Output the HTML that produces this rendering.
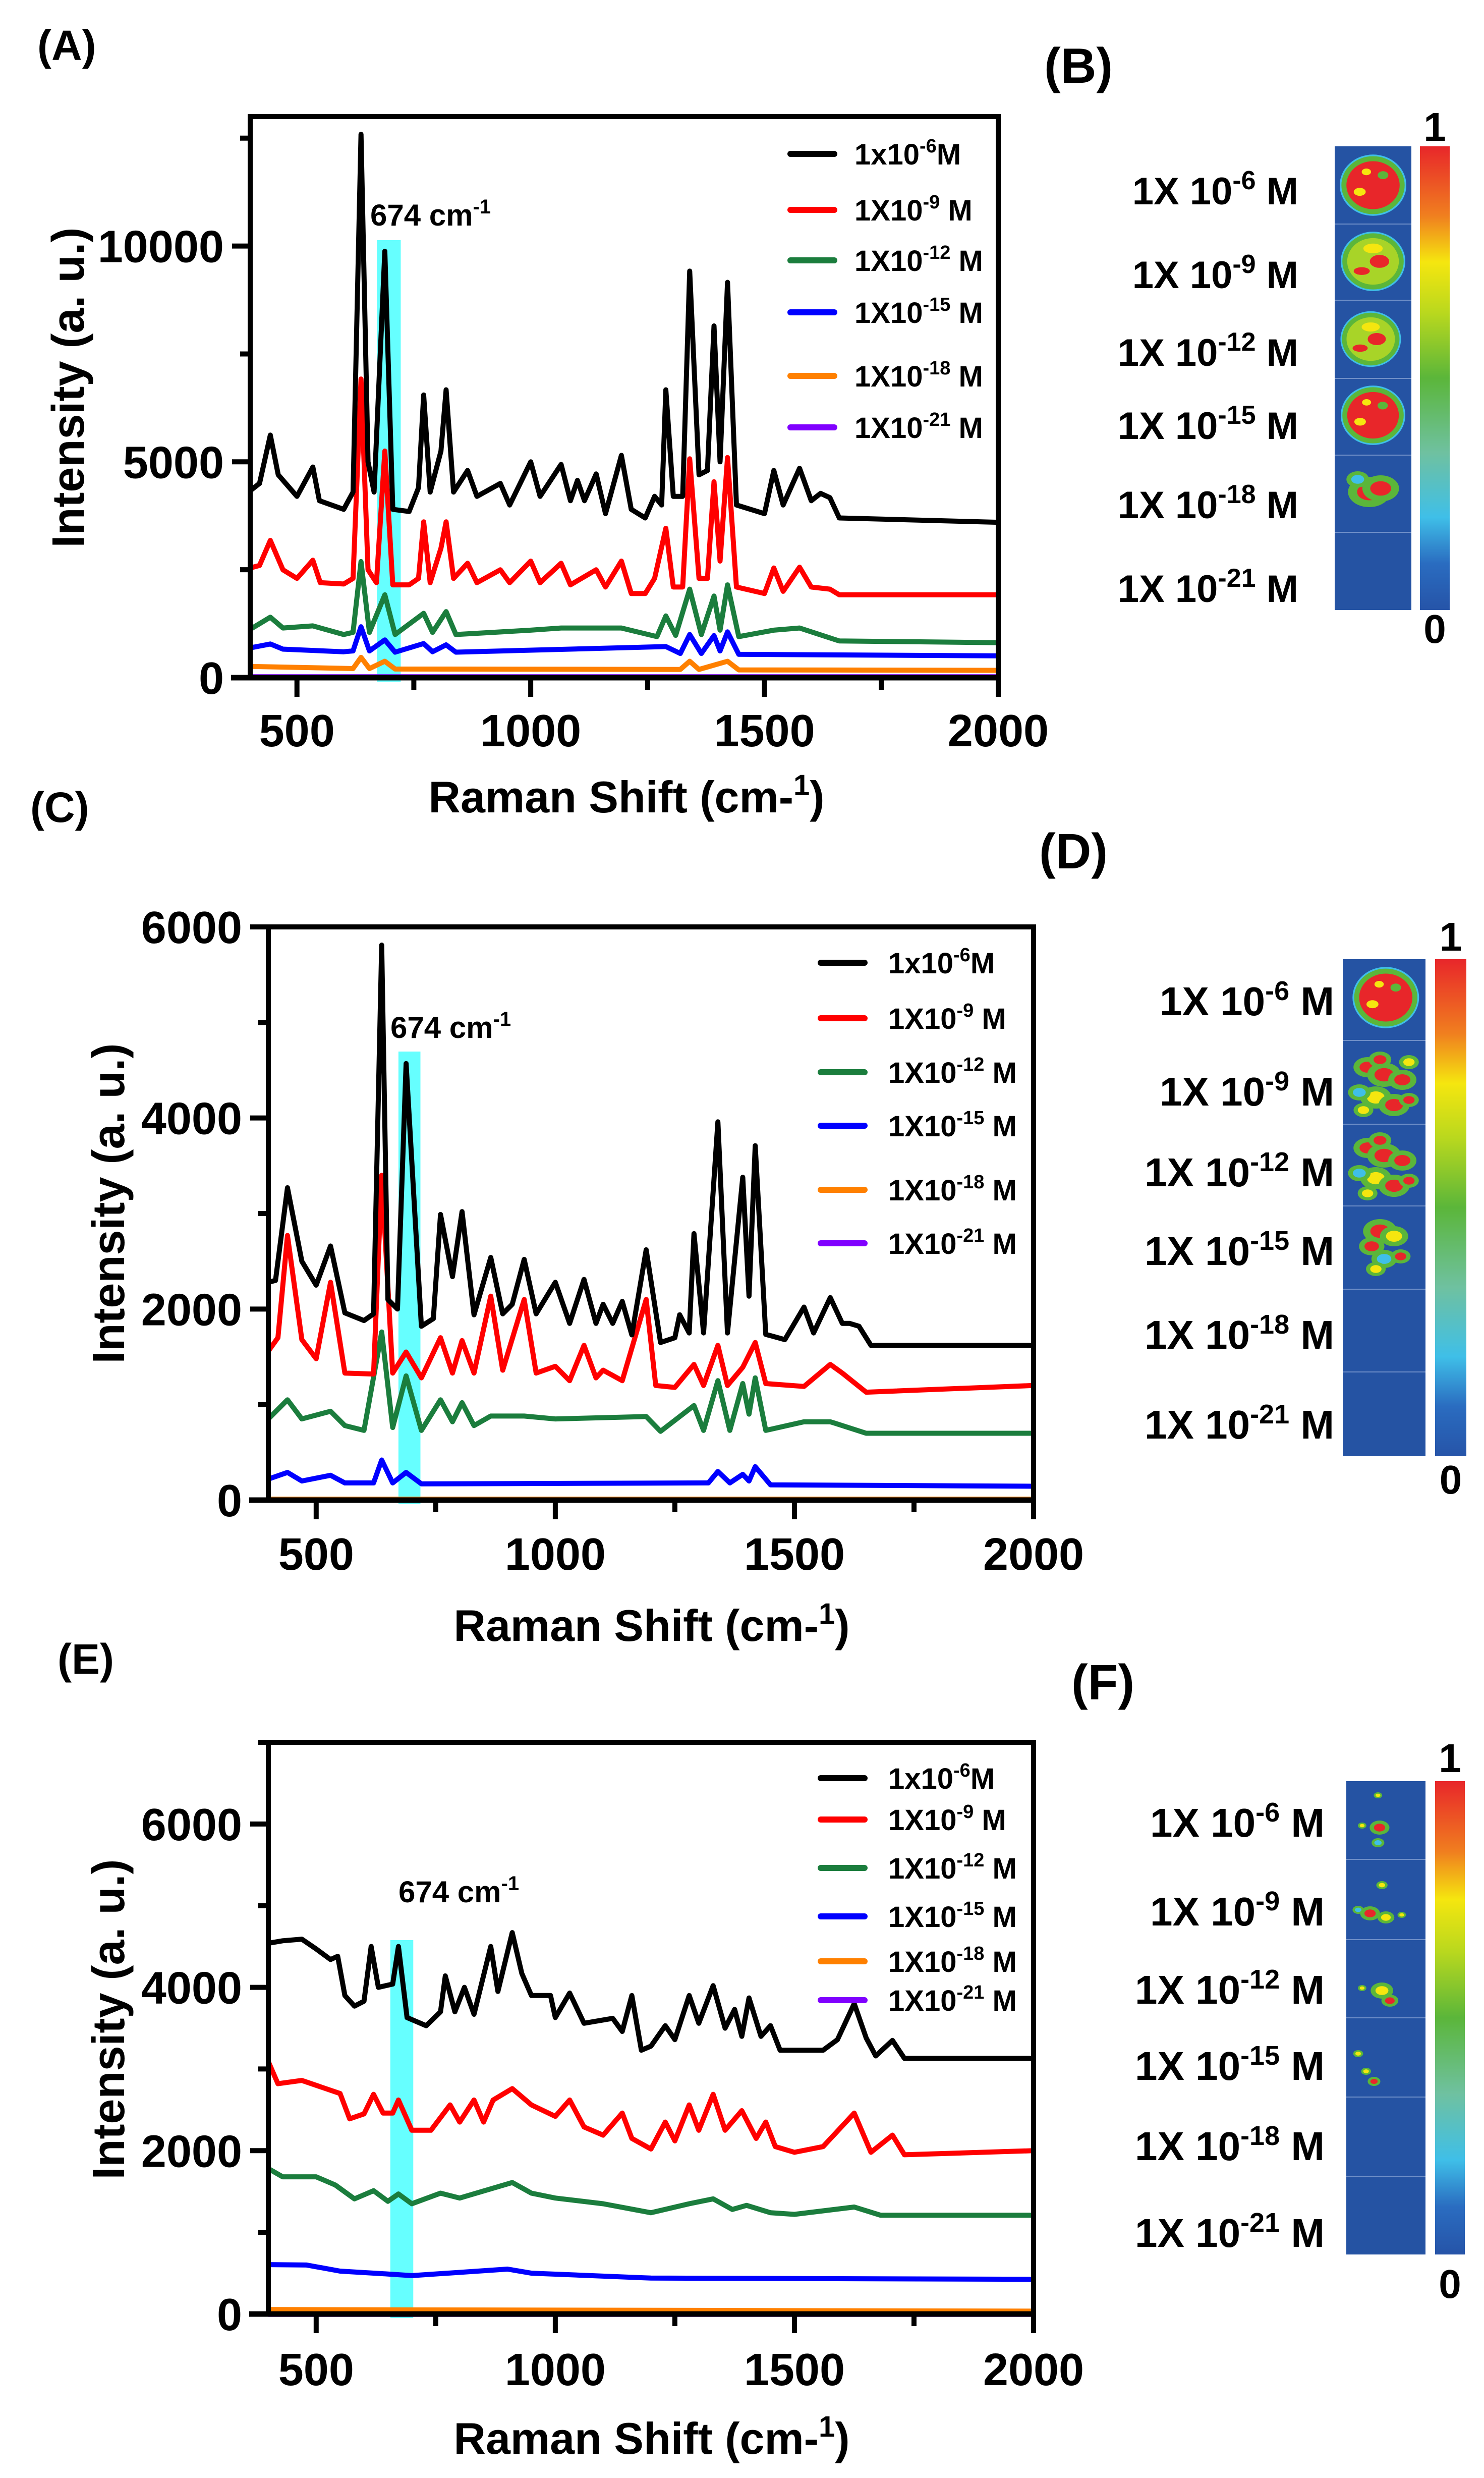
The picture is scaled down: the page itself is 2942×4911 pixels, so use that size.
<!DOCTYPE html>
<html><head><meta charset="utf-8">
<style>
html,body{margin:0;padding:0;background:#fff;}
svg{display:block;font-family:"Liberation Sans",Arial,sans-serif;}
</style></head>
<body>
<svg id="fig" xmlns="http://www.w3.org/2000/svg" width="2942" height="4911" viewBox="0 0 2942 4911">
<defs>
<linearGradient id="cbar" x1="0" y1="0" x2="0" y2="1">
<stop offset="0" stop-color="#e8262a"/><stop offset="0.15" stop-color="#f07f1f"/>
<stop offset="0.25" stop-color="#f5e60f"/><stop offset="0.36" stop-color="#b9d81e"/>
<stop offset="0.5" stop-color="#5bb63a"/><stop offset="0.66" stop-color="#6fc1a0"/>
<stop offset="0.8" stop-color="#3fbfe8"/><stop offset="0.9" stop-color="#2a6cc0"/>
<stop offset="1" stop-color="#2654a8"/></linearGradient>
</defs>
</svg>
<script>
// ---------- Panel A data ----------
const aBlackX=[400,420,443,460,500,534,548,600,620,637,652,665,688,705,740,760,771,785,808,819,835,865,885,935,955,1000,1020,1065,1085,1100,1115,1140,1160,1194,1215,1245,1265,1280,1289,1305,1325,1340,1360,1378,1392,1405,1421,1440,1500,1520,1540,1575,1600,1620,1640,1660,2000];
const aBlackY=[4330,4500,5620,4700,4200,4880,4100,3900,4300,12590,5000,4300,9880,3900,3850,4400,6550,4300,5250,6670,4300,4800,4200,4500,4000,5000,4200,4940,4100,4570,4100,4720,3800,5150,3900,3700,4200,4000,6670,4200,4200,9420,4700,4800,8150,5000,9160,4000,3800,4800,4000,4850,4100,4270,4170,3700,3600];
const aRedX=[400,420,443,470,500,534,550,600,620,637,652,670,688,705,740,760,771,785,808,819,835,865,885,935,955,1000,1020,1065,1085,1140,1160,1194,1215,1245,1265,1289,1305,1325,1340,1360,1378,1392,1405,1421,1440,1500,1520,1540,1575,1600,1640,1660,2000];
const aRedY=[2540,2600,3180,2500,2300,2720,2200,2170,2300,6920,2500,2200,5250,2150,2150,2300,3610,2200,3000,3610,2300,2650,2200,2500,2200,2700,2200,2650,2150,2500,2100,2700,1950,1950,2300,3460,2100,2100,5070,2300,2300,4540,2700,5100,2100,1950,2540,2000,2560,2100,2050,1920,1920];
const aGreenX=[400,443,470,534,600,620,637,655,688,710,771,790,819,840,1000,1065,1194,1270,1289,1310,1340,1365,1392,1405,1421,1445,1520,1575,1660,2000];
const aGreenY=[1120,1400,1150,1200,1000,1050,2690,1050,1920,1000,1490,1050,1530,1000,1100,1150,1150,950,1430,980,2050,1000,1890,1100,2150,950,1100,1150,850,810];
const aBlueX=[400,443,470,600,620,637,655,688,710,771,790,819,840,1289,1320,1340,1365,1392,1405,1421,1445,2000];
const aBlueY=[690,780,660,600,620,1180,620,875,590,790,600,760,590,720,560,1000,560,975,620,1060,540,505];
const aOrangeX=[400,620,637,655,688,710,1320,1340,1360,1421,1445,2000];
const aOrangeY=[260,210,470,210,380,200,190,380,190,380,180,170];
const aPurpleX=[400,2000];
const aPurpleY=[20,20];
// ---------- Panel C data ----------
const cBlackX=[400,415,440,470,500,530,560,600,620,637,650,670,688,720,745,760,785,805,830,865,890,910,935,960,1000,1030,1060,1085,1100,1120,1140,1160,1190,1220,1250,1260,1280,1290,1310,1340,1360,1392,1405,1418,1440,1480,1520,1540,1575,1600,1615,1635,1660,2000];
const cBlackY=[2280,2300,3270,2500,2250,2660,1960,1880,1950,5810,2100,2000,4570,1820,1900,2990,2340,3020,1940,2540,1950,2050,2520,1950,2280,1850,2310,1850,2050,1850,2080,1730,2620,1650,1700,1940,1750,2790,1750,3960,1750,3380,2135,3710,1735,1680,2020,1750,2120,1850,1850,1820,1620,1620];
const cRedX=[400,420,440,470,500,530,560,620,637,660,688,720,760,785,805,830,865,890,935,960,1000,1030,1060,1085,1100,1140,1190,1210,1250,1290,1310,1340,1360,1392,1418,1440,1520,1575,1600,1650,2000];
const cRedY=[1560,1700,2770,1680,1480,2280,1330,1320,3400,1330,1550,1280,1700,1330,1670,1330,2135,1360,2100,1330,1400,1250,1620,1280,1360,1250,2100,1200,1180,1420,1200,1620,1200,1390,1650,1220,1190,1420,1330,1130,1200];
const cGreenX=[400,440,470,530,560,600,637,660,688,720,760,785,805,830,865,935,1000,1190,1220,1290,1310,1340,1365,1392,1405,1418,1440,1520,1575,1650,2000];
const cGreenY=[850,1050,850,930,780,730,1760,760,1300,730,1050,820,1020,780,880,880,850,875,720,990,730,1250,730,1220,900,1280,730,820,820,700,700];
const cBlueX=[400,440,470,530,560,620,637,660,688,720,1320,1340,1365,1392,1405,1418,1450,2000];
const cBlueY=[220,290,200,260,180,180,420,180,290,170,180,300,180,270,200,350,160,145];
const cOrangeX=[400,2000];
const cOrangeY=[10,10];
const cPurpleX=[400,2000];
const cPurpleY=[0,0];
// ---------- Panel E data ----------
const eBlackX=[400,430,470,500,530,545,560,580,600,615,630,660,672,690,730,760,770,790,810,830,865,880,910,930,950,990,1000,1030,1060,1100,1120,1140,1160,1180,1200,1230,1250,1280,1300,1330,1355,1375,1390,1405,1430,1450,1470,1500,1560,1590,1625,1650,1670,1705,1730,2000];
const eBlackY=[4540,4570,4590,4470,4340,4380,3900,3770,3830,4500,4000,4040,4500,3630,3530,3700,4140,3700,4000,3670,4500,3950,4670,4170,3900,3900,3630,3930,3560,3600,3620,3460,3900,3230,3280,3530,3360,3900,3560,4020,3500,3730,3400,3870,3400,3530,3230,3230,3230,3360,3800,3380,3160,3350,3130,3130];
const eRedX=[400,420,470,520,550,570,600,620,640,660,672,700,740,780,800,830,850,870,910,950,1000,1030,1060,1100,1140,1160,1200,1230,1250,1280,1300,1330,1355,1390,1420,1440,1460,1500,1560,1625,1660,1705,1730,2000];
const eRedY=[3090,2820,2860,2760,2700,2390,2450,2690,2460,2460,2620,2250,2250,2560,2350,2620,2350,2620,2760,2560,2420,2620,2290,2190,2460,2150,2020,2350,2120,2560,2250,2690,2250,2490,2150,2350,2050,1980,2050,2460,1980,2190,1950,2000];
const eGreenX=[400,430,500,540,580,620,650,672,700,760,800,910,950,1000,1100,1200,1280,1330,1370,1400,1450,1500,1625,1680,2000];
const eGreenY=[1780,1680,1680,1580,1410,1510,1380,1470,1350,1480,1420,1610,1480,1420,1350,1240,1350,1410,1280,1330,1240,1220,1310,1210,1210];
const eBlueX=[400,480,550,650,700,900,950,1200,2000];
const eBlueY=[605,600,525,490,470,550,500,440,425];
const eOrangeX=[400,2000];
const eOrangeY=[55,35];
const ePurpleX=[400,2000];
const ePurpleY=[-5,-5];
// ---------- shared labels ----------
const xTickValues=[500,1000,1500,2000];
const xMinorValues=[750,1250,1750];
const aYTicks=[0,5000,10000];
const aYMinor=[2500,7500,12500];
const cYTicks=[0,2000,4000,6000];
const cYMinor=[1000,3000,5000];
const eYTicks=[0,2000,4000,6000];
const eYMinor=[1000,3000,5000,7000];
const legendBase=["1x10","1X10","1X10","1X10","1X10","1X10"];
const legendExp=["-6","-9","-12","-15","-18","-21"];
const legendUnit=["M"," M"," M"," M"," M"," M"];
const seriesColors=["#000000","#ff0000","#1b7d3d","#0000ff","#ff8000","#8000ff"];
const mapExp=["-6","-9","-12","-15","-18","-21"];

const NS="http://www.w3.org/2000/svg";
const svg=document.getElementById('fig');
function mk(tag,attrs,parent){const e=document.createElementNS(NS,tag);for(const k in attrs)e.setAttribute(k,attrs[k]);(parent||svg).appendChild(e);return e;}

function panel(p){
  const g=mk('g',{});
  
  
  const sx=v=>p.px0+(v-400)/(2000-400)*(p.px1-p.px0);
  const sy=v=>p.py0-(v/p.ymax)*(p.py0-p.pyTop);
  const cid='clip'+p.name;
  const cp=mk('clipPath',{id:cid},g);mk('rect',{x:p.px0,y:p.pyTop,width:p.px1-p.px0,height:p.py0-p.pyTop+6},cp);
  const band=mk('rect',{x:sx(p.band[0]),y:p.bandTop,width:sx(p.band[1])-sx(p.band[0]),height:p.py0-p.bandTop+8,fill:'#66ffff'},g);
  
  
  const order=[5,4,3,2,1,0];
  order.forEach(i=>{
    const xs=p.series[i][0],ys=p.series[i][1];
    const n=Math.min(xs.length,ys.length);
    let d='';
    for(let k=0;k<n;k++)d+=(k?'L':'M')+sx(xs[k]).toFixed(1)+' '+sy(ys[k]).toFixed(1);
    const path=mk('path',{d:d,fill:'none',stroke:seriesColors[i],'stroke-width':10,'stroke-linejoin':'round','stroke-linecap':'round','clip-path':'url(#'+cid+')'},g);
    
    
  });
  const fr=mk('rect',{x:p.px0,y:p.pyTop,width:p.px1-p.px0,height:p.py0-p.pyTop,fill:'none',stroke:'#000','stroke-width':10},g);
  
  
  const xl=mk('line',{x1:p.px0-38,x2:p.px1,y1:p.py0,y2:p.py0,stroke:'#000','stroke-width':11},g);
  
  
  p.yt.forEach(v=>{
    mk('line',{x1:p.px0-36,x2:p.px0,y1:sy(v),y2:sy(v),stroke:'#000','stroke-width':10},g);
    const t=mk('text',{x:p.px0-52,y:sy(v)+32,'text-anchor':'end','font-size':90,'font-weight':'bold'},g);
    t.textContent=v;
    
    
  });
  p.ym.forEach(v=>mk('line',{x1:p.px0-20,x2:p.px0,y1:sy(v),y2:sy(v),stroke:'#000','stroke-width':10},g));
  xTickValues.forEach(v=>{
    mk('line',{x1:sx(v),x2:sx(v),y1:p.py0,y2:p.py0+38,stroke:'#000','stroke-width':10},g);
    const t=mk('text',{x:sx(v),y:p.xLabY+32,'text-anchor':'middle','font-size':90,'font-weight':'bold'},g);
    t.textContent=v;
    
    
  });
  xMinorValues.forEach(v=>mk('line',{x1:sx(v),x2:sx(v),y1:p.py0,y2:p.py0+24,stroke:'#000','stroke-width':10},g));
  const xt=mk('text',{x:p.xTitleX,y:p.xTitleY+32,'text-anchor':'middle','font-size':88,'font-weight':'bold'},g);
  xt.innerHTML='Raman Shift (cm-<tspan font-size="58" dy="-34">1</tspan><tspan dy="34">)</tspan>';
  
  
  const yt=mk('text',{x:0,y:0,'text-anchor':'middle','font-size':90,'font-weight':'bold',transform:'translate('+(p.yTitleX+32)+','+p.yTitleY+') rotate(-90)'},g);
  yt.textContent='Intensity  (a. u.)';
  yt.setAttribute('xml:space','preserve');
  
  
  const bl=mk('text',{x:p.bandLabX,y:p.bandLabY,'font-size':60,'font-weight':'bold'},g);
  bl.innerHTML='674 cm<tspan font-size="40" dy="-24">-1</tspan>';
  
  
  p.legRows.forEach((ry,i)=>{
    const lg=mk('g',{},g);
    
    
    mk('line',{x1:p.legX1,x2:p.legX2,y1:ry,y2:ry,stroke:seriesColors[i],'stroke-width':12,'stroke-linecap':'round'},lg);
    const t=mk('text',{x:p.legT,y:ry+21,'font-size':58,'font-weight':'bold'},lg);
    t.innerHTML=legendBase[i]+'<tspan font-size="38" dy="-24">'+legendExp[i]+'</tspan><tspan dy="24">'+legendUnit[i]+'</tspan>';
  });
  const pl=mk('text',{x:p.letX,y:p.letY+30,'font-size':84,'font-weight':'bold'},g);
  pl.textContent=p.letter;
  
  
}

panel({name:'a',letter:'(A)',px0:496,px1:1979,py0:1343,pyTop:231,ymax:13000,yt:aYTicks,ym:aYMinor,
  band:[671,722],bandTop:476,xLabY:1447,xTitleX:1242,xTitleY:1578,yTitleX:134,yTitleY:768,bandLabX:734,bandLabY:447,
  legX1:1567,legX2:1654,legT:1694,legRows:[305,416,516,619,745,847],letX:74,letY:89,
  series:[[aBlackX,aBlackY],[aRedX,aRedY],[aGreenX,aGreenY],[aBlueX,aBlueY],[aOrangeX,aOrangeY],[aPurpleX,aPurpleY]]});
panel({name:'c',letter:'(C)',px0:532,px1:2049,py0:2973,pyTop:1837,ymax:6000,yt:cYTicks,ym:cYMinor,
  band:[672,718],bandTop:2084,xLabY:3079,xTitleX:1292,xTitleY:3220,yTitleX:214,yTitleY:2385,bandLabX:774,bandLabY:2057,
  legX1:1627,legX2:1714,legT:1761,legRows:[1908,2018,2125,2231,2358,2464],letX:60,letY:1599,
  series:[[cBlackX,cBlackY],[cRedX,cRedY],[cGreenX,cGreenY],[cBlueX,cBlueY],[cOrangeX,cOrangeY],[cPurpleX,cPurpleY]]});
panel({name:'e',letter:'(E)',px0:532,px1:2049,py0:4586,pyTop:3453,ymax:7000,yt:eYTicks,ym:eYMinor,
  band:[655,703],bandTop:3845,xLabY:4695,xTitleX:1292,xTitleY:4831,yTitleX:214,yTitleY:4002,bandLabX:790,bandLabY:3770,
  legX1:1627,legX2:1714,legT:1761,legRows:[3524,3606,3702,3798,3887,3964],letX:114,letY:3287,
  series:[[eBlackX,eBlackY],[eRedX,eRedY],[eGreenX,eGreenY],[eBlueX,eBlueY],[eOrangeX,eOrangeY],[ePurpleX,ePurpleY]]});

function blob(parent,cx,cy,rx,ry,col){mk('ellipse',{cx:cx,cy:cy,rx:rx,ry:ry,fill:col},parent);}
function mapPanel(m){
  const g=mk('g',{});
  
  
  const bg=mk('rect',{x:m.x0,y:m.y0,width:m.x1-m.x0,height:m.y1-m.y0,fill:'#2553a3'},g);
  
  
  m.seps.forEach(y=>mk('line',{x1:m.x0,x2:m.x1,y1:y,y2:y,stroke:'#6f8fc8','stroke-width':2},g));
  const cw=m.x1-m.x0;
  m.cells.forEach(c=>{
    const cx=m.x0+cw*c.fx, cy=c.cy;
    if(c.kind==='full'){blob(g,cx,cy,c.r,c.r*0.92,'#3fbfe8');blob(g,cx,cy,c.r*0.95,c.r*0.87,'#5bb63a');
      blob(g,cx,cy,c.r*0.8,c.r*0.72,c.red?'#e8262a':'#a8d428');
      if(c.red){blob(g,cx-c.r*0.4,cy+c.r*0.2,c.r*0.18,c.r*0.12,'#f5e60f');blob(g,cx+c.r*0.3,cy-c.r*0.3,c.r*0.16,c.r*0.12,'#5bb63a');blob(g,cx-c.r*0.2,cy-c.r*0.4,c.r*0.14,c.r*0.1,'#f5e60f');}
      else{blob(g,cx+c.r*0.2,cy,c.r*0.3,c.r*0.2,'#e8262a');blob(g,cx-c.r*0.35,cy+c.r*0.3,c.r*0.25,c.r*0.12,'#e8262a');blob(g,cx,cy-c.r*0.4,c.r*0.3,c.r*0.15,'#f5e60f');}
    } else if(c.kind==='spots'){
      c.pts.forEach(s=>{blob(g,m.x0+cw*s[0],s[1],s[2]*1.4,s[2],'#5bb63a');blob(g,m.x0+cw*s[0],s[1],s[2]*0.8,s[2]*0.55,s[3]);});
    }
  });
  const cb=mk('rect',{x:m.cbx0,y:m.y0,width:m.cbx1-m.cbx0,height:m.y1-m.y0,fill:'url(#cbar)'},g);
  
  
  const cbc=(m.cbx0+m.cbx1)/2;
  const t1=mk('text',{x:cbc,y:m.oneY+30,'text-anchor':'middle','font-size':80,'font-weight':'bold'},g);t1.textContent='1';
  
  
  const t0=mk('text',{x:cbc,y:m.zeroY+30,'text-anchor':'middle','font-size':80,'font-weight':'bold'},g);t0.textContent='0';
  
  
  m.rows.forEach((ry,i)=>{
    const t=mk('text',{x:m.labR,y:ry+28,'text-anchor':'end','font-size':m.fs,'font-weight':'bold'},g);
    t.innerHTML='1X 10<tspan font-size="'+Math.round(m.fs*0.68)+'" dy="-30">'+mapExp[i]+'</tspan><tspan dy="30"> M</tspan>';
    
    
  });
  const l=mk('text',{x:m.letX,y:m.letY+36,'font-size':98,'font-weight':'bold'},g);l.textContent=m.letter;
  
  
}
mapPanel({name:'b',letter:'(B)',x0:2646,x1:2798,y0:290,y1:1209,cbx0:2815,cbx1:2874,seps:[444,595,750,902,1055],
  oneY:249,zeroY:1244,labR:2574,fs:76,rows:[377,543,697,842,999,1165],letX:2070,letY:128,
  cells:[{kind:'full',fx:0.5,cy:367,r:66,red:true},{kind:'full',fx:0.5,cy:518,r:64,red:false},{kind:'full',fx:0.47,cy:672,r:60,red:false},
         {kind:'full',fx:0.5,cy:823,r:64,red:true},{kind:'spots',pts:[[0.45,975,30,'#e8262a'],[0.6,968,26,'#e8262a'],[0.3,950,16,'#3fbfe8']]}]});
mapPanel({name:'d',letter:'(D)',x0:2662,x1:2826,y0:1901,y1:2886,cbx0:2845,cbx1:2907,seps:[2062,2228,2390,2555,2719],
  oneY:1854,zeroY:2930,labR:2645,fs:80,rows:[1984,2163,2323,2479,2645,2823],letX:2060,letY:1685,
  cells:[{kind:'full',fx:0.52,cy:1977,r:66,red:true},
    {kind:'spots',pts:[[0.3,2115,20,'#e8262a'],[0.5,2130,24,'#e8262a'],[0.72,2140,20,'#e8262a'],[0.4,2175,22,'#f5e60f'],[0.62,2190,22,'#e8262a'],[0.2,2165,16,'#3fbfe8'],[0.8,2105,14,'#f5e60f'],[0.45,2100,16,'#e8262a'],[0.25,2200,14,'#f5e60f'],[0.8,2180,14,'#e8262a']]},
    {kind:'spots',pts:[[0.3,2275,20,'#e8262a'],[0.5,2290,24,'#e8262a'],[0.72,2300,20,'#e8262a'],[0.4,2335,22,'#f5e60f'],[0.62,2350,22,'#e8262a'],[0.2,2325,16,'#3fbfe8'],[0.45,2260,16,'#e8262a'],[0.8,2340,14,'#e8262a'],[0.3,2365,14,'#f5e60f']]},
    {kind:'spots',pts:[[0.45,2440,24,'#e8262a'],[0.62,2450,20,'#f5e60f'],[0.35,2470,18,'#e8262a'],[0.5,2495,18,'#3fbfe8'],[0.4,2515,14,'#f5e60f'],[0.7,2490,14,'#e8262a']]}]});
mapPanel({name:'f',letter:'(F)',x0:2669,x1:2826,y0:3530,y1:4468,cbx0:2845,cbx1:2904,seps:[3685,3844,3999,4156,4313],
  oneY:3482,zeroY:4524,labR:2626,fs:80,rows:[3612,3788,3943,4094,4253,4425],letX:2124,letY:3332,
  cells:[{kind:'spots',pts:[[0.42,3622,14,'#e8262a'],[0.4,3652,9,'#3fbfe8'],[0.2,3618,6,'#f5e60f'],[0.4,3558,6,'#f5e60f']]},
    {kind:'spots',pts:[[0.3,3792,14,'#e8262a'],[0.5,3800,12,'#f5e60f'],[0.45,3736,8,'#f5e60f'],[0.15,3785,8,'#3fbfe8'],[0.7,3795,6,'#f5e60f']]},
    {kind:'spots',pts:[[0.45,3945,16,'#f5e60f'],[0.55,3965,12,'#e8262a'],[0.2,3940,6,'#f5e60f']]},
    {kind:'spots',pts:[[0.15,4070,7,'#f5e60f'],[0.25,4105,7,'#f5e60f'],[0.35,4125,9,'#e8262a']]}]});
</script>
</body></html>
